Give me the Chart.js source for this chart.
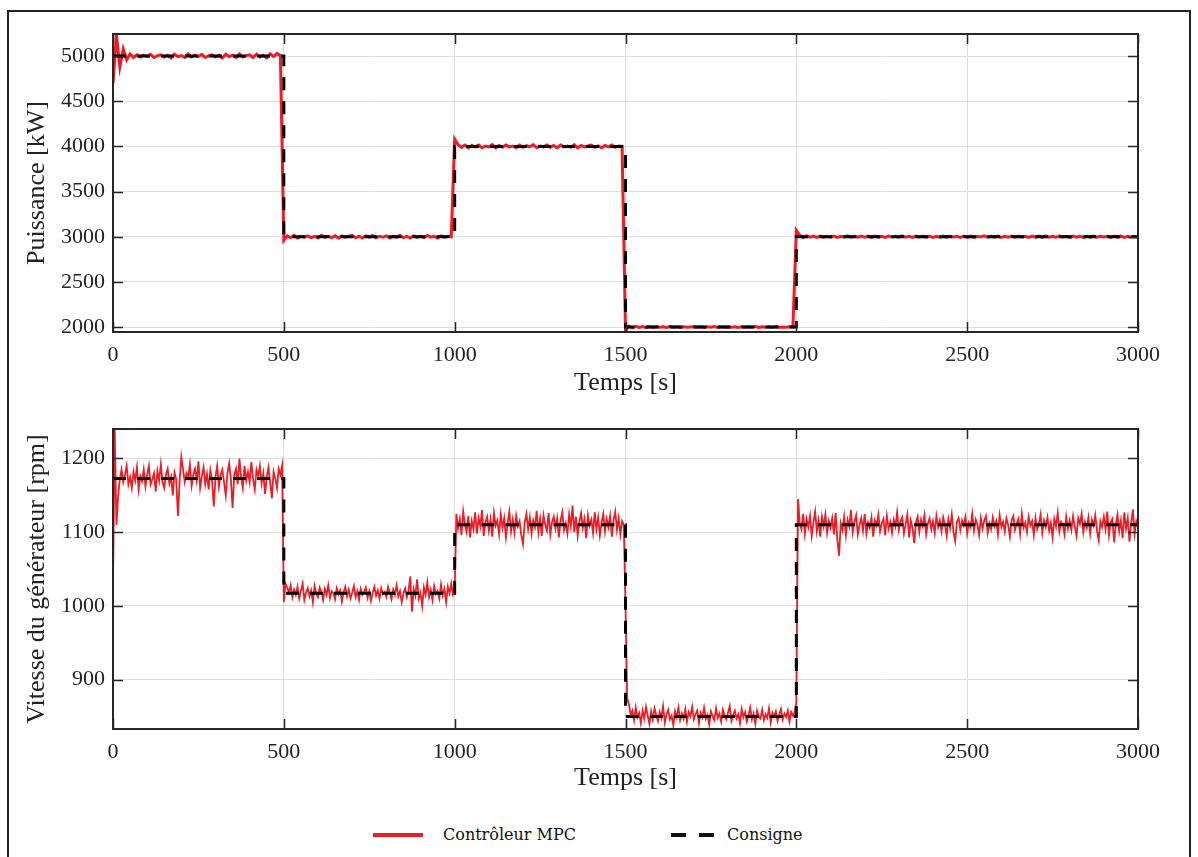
<!DOCTYPE html>
<html>
<head>
<meta charset="utf-8">
<script src="https://cdn.jsdelivr.net/npm/chart.js@4.4.1/dist/chart.umd.min.js"></script>
<style>
  body { margin: 0; background: #fff; width: 1198px; height: 857px; overflow: hidden; position: relative; font-family: "Liberation Serif", serif; }
  #frame { position: absolute; left: 7px; top: 10px; width: 1184px; height: 880px; border: 2px solid #222; box-sizing: border-box; }
  canvas { position: absolute; left: 0; }
  #powerChart { top: 0; }
  #speedChart { top: 395px; }
  .legend { position: absolute; top: 822px; font-family: "DejaVu Serif", serif; font-size: 16px; color: #111; line-height: 26px; }
  .swatch { position: absolute; height: 4px; top: 833px; }
</style>
</head>
<body>
<div id="frame"></div>
<canvas id="powerChart" width="1198" height="400"></canvas>
<canvas id="speedChart" width="1198" height="400"></canvas>

<div class="swatch" style="left:373px;width:50px;background:#ee1c25;"></div>
<div class="legend" style="left:443px;">Contrôleur MPC</div>
<div class="swatch" style="left:671px;width:15px;background:#111;"></div>
<div class="swatch" style="left:699px;width:15px;background:#111;"></div>
<div class="legend" style="left:727px;">Consigne</div>

<script>
// time axis
const timeTicks = [0, 500, 1000, 1500, 2000, 2500, 3000];
const powerTicks = [2000, 2500, 3000, 3500, 4000, 4500, 5000];
const speedTicks = [900, 1000, 1100, 1200];

// consigne (set point) steps
const consigneTimes = [0, 500, 500, 1000, 1000, 1500, 1500, 2000, 2000, 3000];
const consignePower = [5000, 5000, 3000, 3000, 4000, 4000, 2000, 2000, 3000, 3000];
const consigneSpeed = [1173, 1173, 1017, 1017, 1110, 1110, 850, 850, 1110, 1110];

// MPC power, one sample every 10 s
const powerStep = 10;
const powerMpc = [
  4700, 5240, 4880, 5080, 4960, 5025, 4985, 5015, 4990, 5010,
  4995, 5020, 4985, 5005, 5015, 4990, 5010, 4980, 5020, 4995,
  5005, 4985, 5025, 4990, 5010, 4995, 5020, 4985, 5005, 5015,
  4990, 5010, 4980, 5020, 4995, 5010, 4985, 5025, 4990, 5005,
  5015, 4985, 5020, 4990, 5010, 4980, 5025, 4995, 5030, 5005,
  2960, 3010, 2990, 3015, 2985, 3005, 2995, 3010, 2990, 3005,
  2985, 3015, 2995, 3005, 2990, 3010, 2985, 3010, 2995, 3005,
  3015, 2990, 3005, 2985, 3010, 2995, 3015, 2990, 3005, 2995,
  3010, 2985, 3005, 2995, 3015, 2990, 3005, 2985, 3010, 2995,
  3005, 2990, 3015, 2995, 3005, 2985, 3010, 2995, 3005, 3000,
  4080, 4020, 3990, 4015, 3985, 4010, 3995, 4015, 3985, 4005,
  3995, 4020, 3985, 4010, 3990, 4015, 3995, 4005, 3985, 4015,
  3990, 4010, 3995, 4020, 3985, 4005, 3995, 4015, 3990, 4010,
  3985, 4015, 3995, 4005, 3990, 4020, 3985, 4010, 3995, 4005,
  4015, 3990, 4005, 3985, 4010, 3995, 4015, 3990, 4005, 4000,
  1960, 2010, 1990, 2008, 1995, 2005, 1992, 2006, 1996, 2004,
  1997, 2003, 1995, 2005, 1998, 2002, 1996, 2004, 1999, 2001,
  2003, 1997, 2004, 1996, 2002, 1998, 2005, 1995, 2003, 1997,
  2001, 1999, 2004, 1996, 2003, 1997, 2002, 1998, 2005, 1995,
  2002, 1998, 2004, 1996, 2003, 1997, 2001, 1999, 2002, 2000,
  3070, 3015, 2990, 3010, 2995, 3008, 2992, 3006, 2995, 3005,
  2996, 3008, 2993, 3005, 2997, 3010, 2994, 3004, 2996, 3007,
  2995, 3006, 2992, 3008, 2996, 3004, 2993, 3007, 2997, 3005,
  2994, 3009, 2996, 3005, 2992, 3006, 2997, 3004, 2995, 3008,
  2993, 3005, 2996, 3007, 2994, 3006, 2997, 3004, 2992, 3008,
  2995, 3006, 2993, 3005, 2997, 3009, 2994, 3004, 2996, 3007,
  2992, 3005, 2996, 3008, 2994, 3006, 2997, 3004, 2993, 3007,
  2995, 3006, 2992, 3009, 2996, 3005, 2994, 3007, 2997, 3004,
  2993, 3008, 2995, 3006, 2992, 3005, 2996, 3007, 2994, 3006,
  2997, 3004, 2993, 3008, 2995, 3006, 2992, 3005, 2996, 3003,
  3000
];

// MPC generator speed, one sample every 5 s
const speedStep = 5;
const speedMpc = [
  1030, 1240, 1110, 1150, 1172, 1185, 1168, 1178, 1190, 1165,
  1175, 1160, 1182, 1170, 1188, 1158, 1176, 1169, 1185, 1162,
  1178, 1190, 1165, 1172, 1180, 1155, 1183, 1170, 1192, 1168,
  1160, 1178, 1186, 1166, 1175, 1150, 1181, 1172, 1122, 1170,
  1202, 1185, 1168, 1180, 1174, 1192, 1163, 1178, 1186, 1170,
  1196, 1160, 1176, 1188, 1165, 1179, 1158, 1184, 1170, 1135,
  1175, 1190, 1162, 1178, 1185, 1168, 1150, 1180, 1193, 1172,
  1133, 1178, 1186, 1165, 1200, 1175, 1160, 1190, 1170, 1182,
  1168, 1195, 1172, 1158, 1185, 1176, 1190, 1166, 1180, 1152,
  1175, 1188, 1168, 1146, 1182, 1173, 1160, 1186, 1178, 1190,
  1005, 1030, 1025, 1018, 1028, 1012, 1022, 1015, 1026, 1010,
  1020, 1030, 1008, 1018, 1024, 1013, 1021, 1005, 1027, 1016,
  1012, 1025, 1019, 1008, 1023, 1015, 1028, 1011, 1020, 1017,
  1009, 1024, 1016, 1021, 1006, 1019, 1026, 1013, 1022, 1010,
  1018, 1027, 1012, 1020, 1008, 1023, 1015, 1019, 1025, 1011,
  1020, 1007, 1018, 1026, 1014, 1021, 1010, 1024, 1016, 1019,
  1012, 1026, 1018, 1009, 1022, 1015, 1028, 1013, 1020, 1005,
  1017, 1024, 1012, 1020, 1040, 992, 1023, 1014, 1036, 1010,
  1018, 1000, 1025, 1015, 1032, 1012, 1022, 1008, 1027, 1016,
  1020, 1010, 1029, 1014, 1023, 1005, 1026, 1017, 1030, 1015,
  1020, 1125, 1105, 1118, 1096, 1128, 1110, 1100, 1122, 1093,
  1115, 1104, 1127, 1098, 1119, 1108, 1130, 1095, 1113, 1121,
  1102, 1118, 1094, 1126, 1109, 1116, 1097, 1124, 1106, 1119,
  1093, 1112, 1128, 1101, 1117, 1099, 1122, 1108, 1115, 1096,
  1084, 1113, 1125, 1104, 1120, 1098, 1116, 1107, 1129, 1100,
  1118, 1095, 1123, 1110, 1102, 1126, 1097, 1114, 1121, 1105,
  1119, 1093, 1116, 1127, 1103, 1112, 1098, 1124, 1108, 1136,
  1100, 1121, 1095, 1114, 1126, 1106, 1118, 1092, 1123, 1109,
  1117, 1099, 1127, 1104, 1120, 1096, 1113, 1125, 1101, 1118,
  1107, 1122, 1094, 1116, 1128, 1103, 1119, 1097, 1115, 1110,
  1000, 875, 866, 852, 858, 845, 862, 849, 855, 841,
  858, 847, 863, 851, 840, 857, 846, 861, 852, 844,
  856, 848, 864, 842, 853, 859, 846, 851, 838, 857,
  849, 862, 845, 854, 847, 860, 843, 856, 850, 863,
  846, 853, 858, 841, 855, 849, 862, 847, 852, 839,
  857, 850, 845, 861, 848, 854, 843, 859, 851, 846,
  855, 864, 844, 852, 858, 847, 853, 841, 860, 849,
  856, 843, 851, 862, 846, 854, 840, 858, 850, 847,
  859, 845, 853, 848, 861, 842, 855, 850, 857, 844,
  852, 860, 846, 854, 849, 858, 843, 856, 851, 855,
  870, 1145, 1112, 1104, 1125, 1098, 1118, 1107, 1122, 1095,
  1113, 1128, 1101, 1116, 1094, 1121, 1108, 1124, 1099, 1115,
  1106, 1119, 1097, 1126, 1090, 1068, 1112, 1103, 1121, 1096,
  1117, 1108, 1130, 1100, 1114, 1123, 1097, 1110, 1119, 1102,
  1125, 1098, 1113, 1106, 1120, 1094, 1116, 1109, 1124, 1101,
  1112, 1118, 1096, 1122, 1105, 1114, 1099, 1117, 1108, 1127,
  1103, 1115, 1120, 1098, 1111, 1124, 1093, 1116, 1106, 1085,
  1113, 1121, 1100, 1117, 1108, 1123, 1097, 1112, 1119, 1104,
  1115, 1099, 1122, 1107, 1116, 1101, 1120, 1110, 1095, 1118,
  1106, 1124, 1100, 1088, 1114, 1119, 1103, 1116, 1109, 1121,
  1098, 1113, 1107, 1125, 1102, 1117, 1110, 1096, 1119, 1105,
  1116, 1122, 1099, 1112, 1104, 1120, 1108, 1115, 1097, 1123,
  1107, 1114, 1101, 1119, 1110, 1094, 1116, 1122, 1103, 1112,
  1118, 1098, 1125, 1106, 1113, 1100, 1121, 1109, 1115, 1096,
  1119, 1104, 1111, 1124, 1099, 1116, 1107, 1120, 1102, 1113,
  1093, 1118, 1108, 1126, 1101, 1114, 1110, 1097, 1121, 1105,
  1116, 1103, 1122, 1108, 1095, 1119, 1111, 1125, 1100, 1114,
  1106, 1120, 1098, 1117, 1109, 1123, 1102, 1089, 1115, 1107,
  1121, 1104, 1128, 1096, 1113, 1118, 1086, 1110, 1124, 1101,
  1116, 1092, 1127, 1105, 1119, 1087, 1112, 1131, 1098, 1115,
  1108
];

const RED = '#ee1c25';
const TICK_FONT = { family: 'Liberation Serif', size: 22 };
const TITLE_FONT = { family: 'Liberation Serif', size: 26 };

// matlab style box with inward ticks
const boxPlugin = {
  id: 'box',
  afterDatasetsDraw(chart) {
    const { ctx, chartArea: a, scales: { x, y } } = chart;
    ctx.save();
    ctx.strokeStyle = '#262626';
    ctx.lineWidth = 1.5;
    ctx.beginPath();
    x.ticks.forEach(t => {
      const px = Math.round(x.getPixelForValue(t.value)) + 0.5;
      ctx.moveTo(px, a.bottom); ctx.lineTo(px, a.bottom - 10);
      ctx.moveTo(px, a.top); ctx.lineTo(px, a.top + 10);
    });
    y.ticks.forEach(t => {
      const py = Math.round(y.getPixelForValue(t.value)) + 0.5;
      ctx.moveTo(a.left, py); ctx.lineTo(a.left + 10, py);
      ctx.moveTo(a.right, py); ctx.lineTo(a.right - 10, py);
    });
    ctx.stroke();
    ctx.lineWidth = 2;
    ctx.strokeRect(a.left, a.top, a.right - a.left, a.bottom - a.top);
    ctx.restore();
  }
};

function makeChart(id, opts) {
  const ctx = document.getElementById(id).getContext('2d');
  return new Chart(ctx, {
    type: 'line',
    data: {
      datasets: [
        {
          label: 'Consigne',
          data: consigneTimes.map((t, i) => ({ x: t, y: opts.consigne[i] })),
          borderColor: '#000',
          borderWidth: 3,
          borderDash: [13, 11],
          pointRadius: 0,
          tension: 0
        },
        {
          label: 'Contrôleur MPC',
          data: opts.mpc.map((v, i) => ({ x: i * opts.step, y: v })),
          borderColor: RED,
          borderWidth: opts.redWidth,
          pointRadius: 0,
          tension: 0
        }
      ]
    },
    options: {
      responsive: false,
      animation: false,
      layout: { padding: { left: 0, right: 60, top: 34, bottom: 0 } },
      plugins: { legend: { display: false }, tooltip: { enabled: false } },
      scales: {
        x: {
          type: 'linear',
          min: 0,
          max: 3000,
          afterBuildTicks: s => { s.ticks = timeTicks.map(v => ({ value: v })); },
          afterFit: s => { s.height = opts.xHeight; },
          grid: { color: '#dedede', lineWidth: 1, drawTicks: false },
          border: { display: false },
          ticks: { font: TICK_FONT, color: '#222', padding: 10, maxRotation: 0, callback: v => String(v) },
          title: { display: true, text: 'Temps [s]', font: TITLE_FONT, color: '#222', padding: { top: 0, bottom: 1 } }
        },
        y: {
          min: opts.yMin,
          max: opts.yMax,
          afterBuildTicks: s => { s.ticks = opts.yTicks.map(v => ({ value: v })); },
          afterFit: s => { s.width = 113; },
          grid: { color: '#dedede', lineWidth: 1, drawTicks: false },
          border: { display: false },
          ticks: { font: TICK_FONT, color: '#222', padding: 8, callback: v => String(v) },
          title: { display: true, text: opts.yTitle, font: TITLE_FONT, color: '#222', padding: { top: 22, bottom: 0 } }
        }
      }
    },
    plugins: [boxPlugin]
  });
}

makeChart('powerChart', {
  consigne: consignePower,
  mpc: powerMpc,
  step: powerStep,
  redWidth: 3,
  yMin: 1945,
  yMax: 5245,
  yTicks: powerTicks,
  yTitle: 'Puissance [kW]',
  xHeight: 68
});

makeChart('speedChart', {
  consigne: consigneSpeed,
  mpc: speedMpc,
  step: speedStep,
  redWidth: 1.8,
  yMin: 833,
  yMax: 1240,
  yTicks: speedTicks,
  yTitle: 'Vitesse du générateur [rpm]',
  xHeight: 66
});
</script>
</body>
</html>
